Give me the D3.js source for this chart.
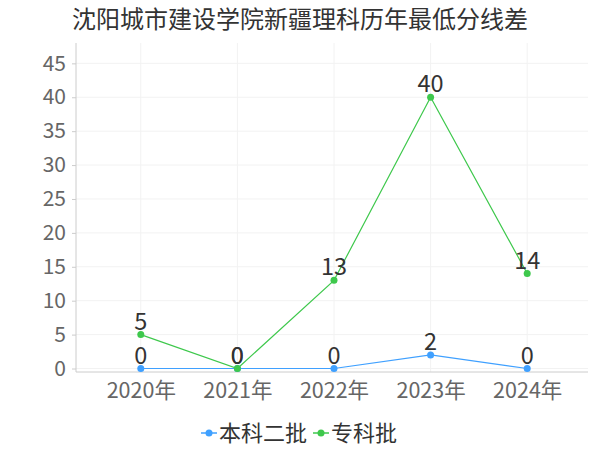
<!DOCTYPE html>
<meta charset="utf-8">
<head>
    <script type="text/javascript" src="https://d3js.org/d3.v7.min.js"></script>
    <style>
        body { margin: 0; background: #fff; }
        text { font-family: "Noto Sans CJK SC", "Noto Sans", sans-serif; }
    </style>
    <title></title>
</head>
<body>
<script>

    var width = 600
    var height = 450

    var title = "沈阳城市建设学院新疆理科历年最低分线差"
    var years = ["2020年", "2021年", "2022年", "2023年", "2024年"]
    var seriesNames = ["本科二批", "专科批"]
    var benke2 = [0, 0, 0, 2, 0]
    var zhuanke = [5, 0, 13, 40, 14]
    var colors = ["#3fa0ff", "#3ec84c"]
    var yTicks = [0, 5, 10, 15, 20, 25, 30, 35, 40, 45]

    var series = [
        {name: seriesNames[0], values: benke2, color: colors[0]},
        {name: seriesNames[1], values: zhuanke, color: colors[1]}
    ]

    var svg = d3.select("body").append("svg")
        .attr("width", width)
        .attr("height", height)

    // plot frame
    var plotL = 76, plotR = 588, plotT = 43, zeroY = 368.5, axisY = 372

    var x = d3.scalePoint()
        .domain(years)
        .range([78, 590])
        .padding(0.65)

    var y = d3.scaleLinear()
        .domain([0, 48])
        .range([zeroY, plotT])

    // title
    svg.append("text")
        .attr("x", 300)
        .attr("y", 28)
        .attr("text-anchor", "middle")
        .style("font-size", "24px")
        .style("fill", "#333")
        .text(title)

    // grid
    var grid = svg.append("g")
    grid.selectAll("line.h")
        .data(yTicks)
        .enter().append("line")
        .attr("x1", plotL).attr("x2", plotR)
        .attr("y1", d => y(d)).attr("y2", d => y(d))
        .style("stroke", "#f2f2f2")
    grid.selectAll("line.v")
        .data(years)
        .enter().append("line")
        .attr("x1", d => x(d)).attr("x2", d => x(d))
        .attr("y1", plotT).attr("y2", axisY)
        .style("stroke", "#f2f2f2")

    // y axis
    var yAxis = svg.append("g")
        .attr("transform", "translate(" + plotL + ",0)")
        .call(d3.axisLeft(y).tickValues(yTicks).tickSize(4).tickPadding(6))
    yAxis.select(".domain").attr("d", "M0," + plotT + "V" + axisY).style("stroke", "#ccc")
    yAxis.selectAll(".tick line").style("stroke", "#ccc")
    yAxis.selectAll(".tick text")
        .style("font-size", "21px")
        .style("fill", "#666")
        .style("font-family", "'Noto Sans CJK SC', sans-serif")

    // x axis
    var xAxis = svg.append("g")
        .attr("transform", "translate(0," + axisY + ")")
        .call(d3.axisBottom(x).tickSize(0).tickPadding(11))
    xAxis.select(".domain").attr("d", "M" + plotL + ",0H" + plotR).style("stroke", "#ccc")
    xAxis.selectAll(".tick text")
        .style("font-size", "21.5px")
        .style("fill", "#666")
        .style("font-family", "'Noto Sans CJK SC', sans-serif")

    // lines
    var line = d3.line()
        .x((d, i) => x(years[i]))
        .y(d => y(d))

    series.forEach(function (s) {
        var g = svg.append("g")
        g.append("path")
            .attr("d", line(s.values))
            .style("fill", "none")
            .style("stroke", s.color)
            .style("stroke-width", 1.2)
        g.selectAll("circle")
            .data(s.values)
            .enter().append("circle")
            .attr("cx", (d, i) => x(years[i]))
            .attr("cy", d => y(d))
            .attr("r", 3.5)
            .style("fill", s.color)
        g.selectAll("text")
            .data(s.values)
            .enter().append("text")
            .attr("x", (d, i) => x(years[i]))
            .attr("y", d => y(d) - 5)
            .attr("text-anchor", "middle")
            .style("font-size", "23.5px")
            .style("fill", "#333")
            .text(d => d)
    })

    // legend
    var legendX = [201, 313]
    var legend = svg.append("g")
    series.forEach(function (s, i) {
        var lg = legend.append("g").attr("transform", "translate(" + legendX[i] + ",433)")
        lg.append("line")
            .attr("x1", 0).attr("x2", 16)
            .style("stroke", s.color)
            .style("stroke-width", 1.5)
        lg.append("circle")
            .attr("cx", 8).attr("r", 3.5)
            .style("fill", s.color)
        lg.append("text")
            .attr("x", 18)
            .attr("dy", "0.35em")
            .style("font-size", "22px")
            .style("fill", "#333")
            .text(s.name)
    })

</script>
</body>
</html>
